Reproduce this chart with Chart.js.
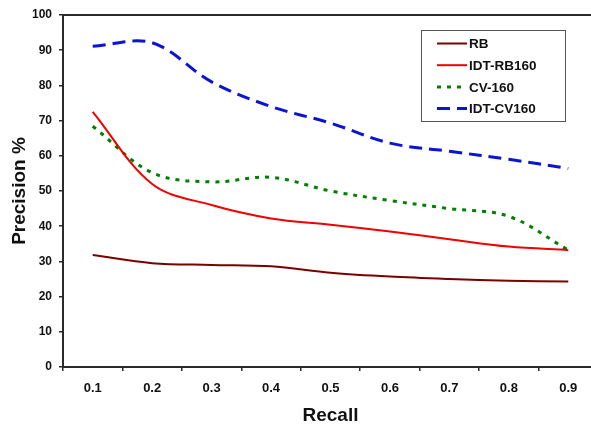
<!DOCTYPE html>
<html>
<head>
<meta charset="utf-8">
<script src="https://cdn.jsdelivr.net/npm/chart.js@4"></script>
<style>
  html, body { margin: 0; padding: 0; background: #fff; overflow: hidden; }
  /* the original plot runs a few pixels past the right edge of the picture */
  #wrap { width: 591px; height: 425px; overflow: hidden; }
</style>
</head>
<body>
<div id="wrap"><canvas id="chart" width="598" height="425"></canvas></div>
<script>
// values
const recall = ['0.1', '0.2', '0.3', '0.4', '0.5', '0.6', '0.7', '0.8', '0.9'];
const rb = [31.8, 29.5, 29, 28.6, 26.8, 25.7, 25, 24.5, 24.3];
const idtRb160 = [72.5, 52, 46, 42.2, 40.4, 38.5, 36.3, 34.2, 33.2];
const cv160 = [68.4, 55.2, 52.6, 53.9, 50, 47.3, 45, 42.8, 33.2];
const idtCv160 = [91.1, 92.1, 81, 74, 69.3, 63.6, 61.3, 59, 56.4];

const axisColor = '#2a2a2a';
const fontFamily = '"Liberation Sans", Arial, sans-serif';

// Excel style legend box inside the plot area
const boxLegend = {
    id: 'boxLegend',
    afterDraw(chart) {
        const ctx = chart.ctx;
        const x = 421, y = 30, w = 144, h = 91;
        ctx.save();
        ctx.fillStyle = '#fff';
        ctx.fillRect(x, y, w, h);
        ctx.strokeStyle = '#555';
        ctx.lineWidth = 1;
        ctx.strokeRect(x + 0.5, y + 0.5, w, h);
        ctx.font = 'bold 13.5px ' + fontFamily;
        ctx.textBaseline = 'middle';
        ctx.fillStyle = '#111';
        chart.data.datasets.forEach((ds, i) => {
            const ry = y + 13.5 + i * 21.7;
            ctx.beginPath();
            ctx.setLineDash(ds.borderDash || []);
            ctx.strokeStyle = ds.borderColor;
            ctx.lineWidth = ds.borderWidth;
            ctx.moveTo(x + 16, ry);
            ctx.lineTo(x + 46, ry);
            ctx.stroke();
            ctx.setLineDash([]);
            ctx.fillText(ds.label, x + 48, ry + 1);
        });
        ctx.restore();
    }
};

// top and right edges of the plot frame
const plotFrame = {
    id: 'plotFrame',
    beforeDatasetsDraw(chart) {
        const { ctx, chartArea: a } = chart;
        ctx.save();
        ctx.strokeStyle = axisColor;
        ctx.lineWidth = 2;
        ctx.beginPath();
        ctx.moveTo(a.left, a.top);
        ctx.lineTo(a.right, a.top);
        ctx.lineTo(a.right, a.bottom);
        ctx.stroke();
        ctx.restore();
    }
};

new Chart(document.getElementById('chart').getContext('2d'), {
    type: 'line',
    data: {
        labels: recall,
        datasets: [
            { label: 'RB', data: rb, borderColor: '#7a0000', borderWidth: 2 },
            { label: 'IDT-RB160', data: idtRb160, borderColor: '#f00000', borderWidth: 2 },
            { label: 'CV-160', data: cv160, borderColor: '#008000', borderWidth: 3, borderDash: [4, 6] },
            { label: 'IDT-CV160', data: idtCv160, borderColor: '#0a14d2', borderWidth: 3, borderDash: [13, 7] }
        ]
    },
    options: {
        responsive: false,
        animation: false,
        devicePixelRatio: 1,
        elements: {
            point: { radius: 0 },
            line: { tension: 0.35, fill: false, borderCapStyle: 'butt' }
        },
        layout: { padding: { top: 15, right: 0, left: 0, bottom: 0 } },
        plugins: {
            legend: { display: false },
            tooltip: { enabled: false }
        },
        scales: {
            x: {
                offset: true,
                grid: { offset: true, drawOnChartArea: false, drawTicks: true, tickLength: 4, color: axisColor, lineWidth: 1.5 },
                border: { color: axisColor, width: 2 },
                ticks: { color: '#111', padding: 10, maxRotation: 0, font: { family: fontFamily, size: 13, weight: 'bold' } },
                title: {
                    display: true, text: 'Recall', color: '#111',
                    padding: { top: 0, bottom: 0 },
                    font: { family: fontFamily, size: 19, weight: 'bold', lineHeight: 1 }
                },
                afterFit(scale) { scale.height = 58; }
            },
            y: {
                min: 0, max: 100,
                grid: { drawOnChartArea: false, drawTicks: true, tickLength: 4, color: axisColor, lineWidth: 1.5 },
                border: { color: axisColor, width: 2 },
                ticks: { stepSize: 10, color: '#111', padding: 7, font: { family: fontFamily, size: 12, weight: 'bold' } },
                title: {
                    display: true, text: 'Precision %', color: '#111',
                    padding: { top: 10, bottom: 0 },
                    font: { family: fontFamily, size: 19, weight: 'bold', lineHeight: 1 }
                },
                afterFit(scale) { scale.width = 63; }
            }
        }
    },
    plugins: [plotFrame, boxLegend]
});
</script>
</body>
</html>
